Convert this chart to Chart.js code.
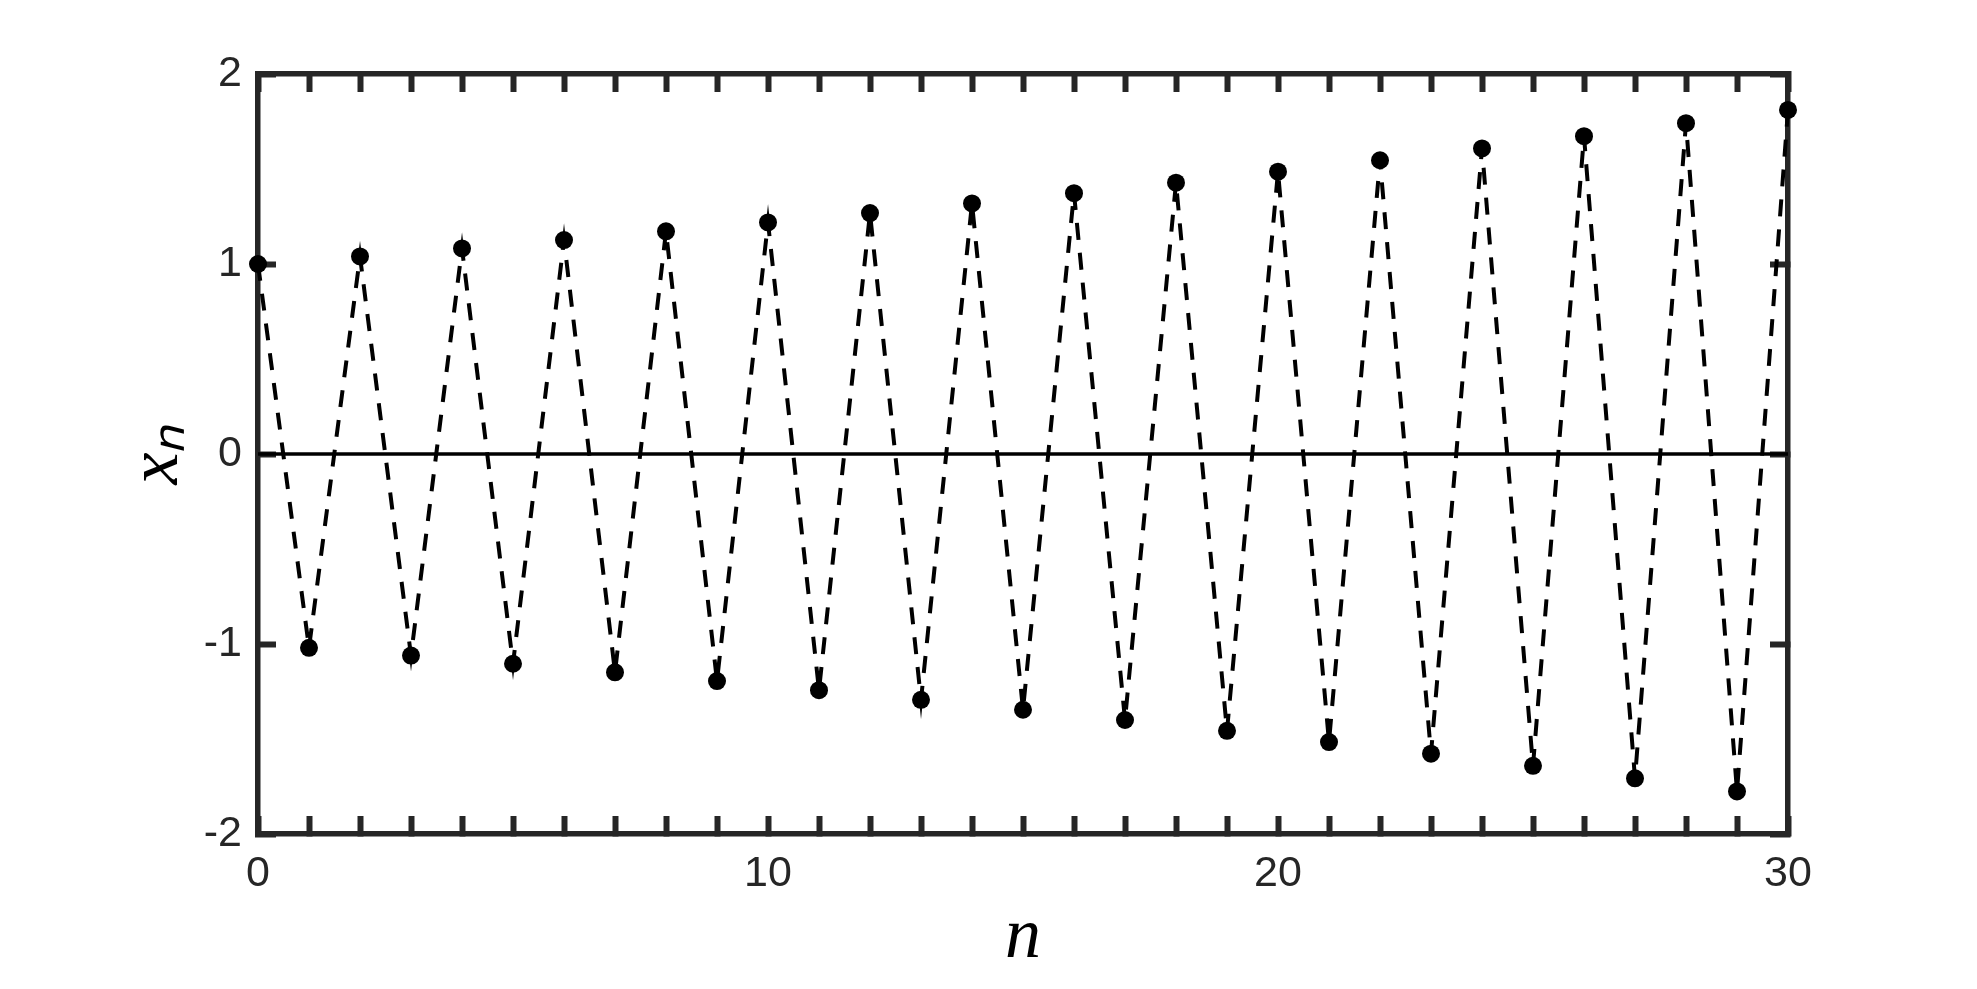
<!DOCTYPE html>
<html>
<head>
<meta charset="utf-8">
<title>x_n</title>
<script src="https://cdn.jsdelivr.net/npm/chart.js@4.4.1/dist/chart.umd.min.js"></script>
<style>
  html, body { margin: 0; padding: 0; background: #fff; }
  #wrap { width: 1977px; height: 989px; }
</style>
</head>
<body>
<div id="wrap"><canvas id="chart" width="1977" height="989"></canvas></div>
<script>
// sequence
const nValues = [0, 1, 2, 3, 4, 5, 6, 7, 8, 9, 10, 11, 12, 13, 14, 15,
                 16, 17, 18, 19, 20, 21, 22, 23, 24, 25, 26, 27, 28, 29, 30];
const xnValues = [1.000, -1.020, 1.040, -1.061, 1.082, -1.104, 1.126, -1.149,
                  1.172, -1.195, 1.219, -1.243, 1.268, -1.294, 1.319, -1.346,
                  1.373, -1.400, 1.428, -1.457, 1.486, -1.516, 1.546, -1.577,
                  1.608, -1.641, 1.673, -1.707, 1.741, -1.776, 1.811];
const zeroLineX = [0, 30];
const zeroLineY = [0, 0];
const xLabelTicks = [0, 10, 20, 30];
const yLabelTicks = [-2, -1, 0, 1, 2];

const axisColor = '#262626';
const axisWidth = 5.5;

const seqPoints = nValues.map((n, i) => ({ x: n, y: xnValues[i] }));
const zeroPoints = zeroLineX.map((x, i) => ({ x: x, y: zeroLineY[i] }));

const fixSize = (prop, val) => (scale) => { scale[prop] = val; };

const tickFont = { family: '"Liberation Sans", Arial, sans-serif', size: 43 };
const titleFont = { family: '"Liberation Serif", "Times New Roman", serif', size: 72, style: 'italic' };

// inward tick marks on all four sides (negative length points into the plot)
const frameGrid = {
  drawOnChartArea: false,
  drawTicks: true,
  tickLength: -18,
  tickColor: axisColor,
  tickWidth: 6,
  color: axisColor
};
const frameBorder = { display: true, color: axisColor, width: axisWidth };

new Chart(document.getElementById('chart'), {
  type: 'line',
  data: {
    datasets: [{
      label: 'x_n',
      data: seqPoints,
      borderColor: '#000',
      backgroundColor: '#000',
      borderWidth: 4,
      borderDash: [17, 13],
      pointRadius: 9,
      pointBorderWidth: 0,
      pointBackgroundColor: '#000',
      tension: 0,
      clip: false,
      order: 1
    }, {
      label: 'zero',
      data: zeroPoints,
      borderColor: '#000',
      borderWidth: 3.5,
      pointRadius: 0,
      tension: 0,
      order: 2
    }]
  },
  options: {
    responsive: false,
    animation: false,
    devicePixelRatio: 1,
    layout: { padding: 0 },
    plugins: {
      legend: { display: false },
      tooltip: { enabled: false }
    },
    scales: {
      x: {
        type: 'linear',
        position: 'bottom',
        min: 0, max: 30,
        afterFit: fixSize('height', 155),
        afterBuildTicks: (scale) => {
          scale.ticks = nValues.map(v => ({ value: v }));
        },
        ticks: {
          autoSkip: false,
          maxRotation: 0,
          padding: 32,
          color: axisColor,
          font: tickFont,
          callback: (v) => xLabelTicks.includes(v) ? String(v) : ''
        },
        grid: frameGrid,
        border: frameBorder,
        title: {
          display: true,
          text: 'n',
          color: '#000',
          font: titleFont,
          padding: { top: 0, bottom: 8 }
        }
      },
      x2: {
        type: 'linear',
        position: 'top',
        min: 0, max: 30,
        afterFit: fixSize('height', 74),
        afterBuildTicks: (scale) => {
          scale.ticks = nValues.map(v => ({ value: v }));
        },
        ticks: { display: false, autoSkip: false },
        grid: frameGrid,
        border: frameBorder
      },
      y: {
        type: 'linear',
        position: 'left',
        min: -2, max: 2,
        afterFit: fixSize('width', 258),
        afterBuildTicks: (scale) => {
          scale.ticks = yLabelTicks.map(v => ({ value: v }));
        },
        ticks: {
          padding: 34,
          color: axisColor,
          font: tickFont,
          callback: (v) => String(v)
        },
        grid: frameGrid,
        border: frameBorder,
        title: {
          display: true,
          text: 'x\u2099',
          color: '#000',
          font: titleFont,
          padding: { top: 115, bottom: 0 }
        }
      },
      y2: {
        type: 'linear',
        position: 'right',
        min: -2, max: 2,
        afterFit: fixSize('width', 189),
        afterBuildTicks: (scale) => {
          scale.ticks = yLabelTicks.map(v => ({ value: v }));
        },
        ticks: { display: false },
        grid: frameGrid,
        border: frameBorder
      }
    }
  }
});
</script>
</body>
</html>
